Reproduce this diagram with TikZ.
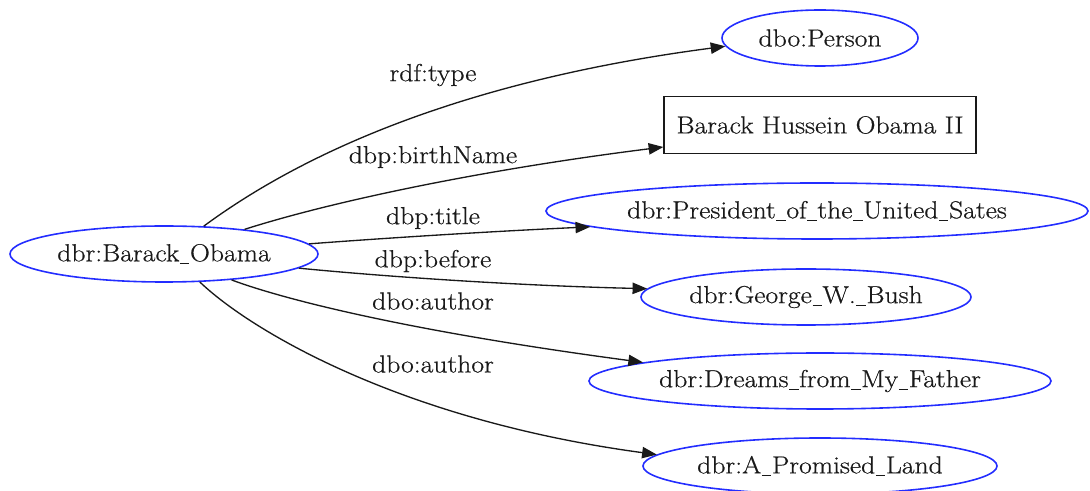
\documentclass[tikz,border=0pt]{standalone}
\usepackage{fontspec}
\usetikzlibrary{arrows.meta,shapes.geometric}
\newfontfamily\graphfont{Latin Modern Roman}[FakeBold=0.6,FakeStretch=1.12]
\newdimen\pxu
\pxu=0.75pt
% short underscore used in resource names
\newcommand\us{\kern0.5pt\rule[-2pt]{7pt}{0.9pt}\kern0.5pt}
\definecolor{nodeblue}{RGB}{35,45,255}
\definecolor{ink}{RGB}{25,25,25}
\begin{document}
\begin{tikzpicture}[x=0.75pt,y=-0.75pt,
  font=\graphfont\fontsize{18.5}{21}\selectfont,
  res/.style={ellipse,draw=nodeblue,line width=1.2pt,text=ink,inner sep=0pt,minimum height=56\pxu},
  lit/.style={rectangle,draw=ink,line width=1pt,text=ink,inner sep=0pt,minimum height=57\pxu,minimum width=312\pxu},
  rel/.style={draw=ink,line width=1pt,-{Triangle[length=11pt,width=8.5pt]}},
  lbl/.style={text=ink,inner sep=0pt}]
\useasboundingbox (0,0) rectangle (1090,491);
\clip (0,0) rectangle (1090,491);

% resources and literal
\node[res,minimum width=308\pxu] (ob) at (164,254) {dbr:Barack\us Obama};
\node[res,minimum width=196\pxu] (per) at (820,38) {dbo:Person};
\node[lit] (name) at (820,125) {Barack Hussein Obama II};
\node[res,minimum width=542\pxu] (pres) at (817,211) {dbr:President\us of\us the\us United\us Sates};
\node[res,minimum width=320\pxu] (bush) at (806,297) {dbr:George\us W.\us Bush};
\node[res,minimum width=462\pxu] (dreams) at (820,381) {dbr:Dreams\us from\us My\us Father};
\node[res,minimum width=354\pxu] (land) at (820,466) {dbr:A\us Promised\us Land};

% properties
\draw[rel] (ob.35) .. controls (280,170) and (430,85) .. (per.185);
\draw[rel] (ob.17) .. controls (330,202) and (480,170) .. (name.188);
\draw[rel] (ob.4) .. controls (400,237) and (500,231) .. (pres.184);
\draw[rel] (ob.-6) .. controls (400,278) and (530,286) .. (bush.177);
\draw[rel] (ob.-21) .. controls (280,298) and (400,330) .. (dreams.174);
\draw[rel] (ob.-38) .. controls (250,330) and (400,420) .. (land.176);

% property labels
\node[lbl] (l1) at (433,75) {rdf:type};
\node[lbl] (l2) at (433,157) {dbp:birthName};
\node[lbl] (l3) at (433,218) {dbp:title};
\node[lbl] (l4) at (433,261) {dbp:before};
\node[lbl] (l5) at (433,301) {dbo:author};
\node[lbl] (l6) at (433,364) {dbo:author};
\end{tikzpicture}
\end{document}
